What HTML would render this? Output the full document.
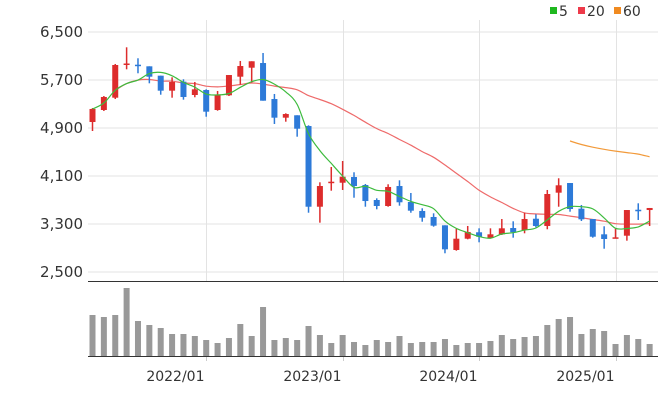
<!DOCTYPE html>
<html><head><meta charset="utf-8"><style>
html,body{margin:0;padding:0;background:#fff;width:658px;height:408px;overflow:hidden}
svg{display:block;font-family:"DejaVu Sans","Liberation Sans",sans-serif}
</style></head><body>
<svg id="c" width="658" height="408"></svg>
<script>
const opens=[5000,5200,5405,5950,5955,5928,5772,5522,5672,5450,5533,5200,5445,5755,5905,5983,5383,5072,5112,4933,3588,3988,3988,4083,3950,3700,3600,3933,3667,3517,3417,3278,2867,3055,3162,3067,3128,3233,3200,3388,3267,3822,3983,3555,3383,3128,3062,3105,3538,3533];
const closes=[5217,5417,5950,5975,5935,5755,5522,5667,5417,5545,5172,5455,5783,5933,6012,5355,5072,5133,4888,3588,3933,4005,4088,3933,3683,3600,3917,3662,3522,3405,3272,2878,3055,3167,3088,3128,3228,3162,3383,3267,3800,3945,3550,3378,3088,3050,3078,3533,3512,3567];
const highs=[5233,5433,5967,6245,6062,5928,5772,5745,5712,5667,5545,5517,5783,6017,6012,6150,5467,5145,5112,4945,3995,4250,4350,4162,3967,3728,3962,4028,3817,3562,3478,3278,3222,3267,3228,3228,3383,3345,3488,3462,3867,4062,3983,3617,3383,3262,3222,3533,3645,3567];
const lows=[4850,5183,5383,5878,5812,5645,5455,5405,5372,5412,5088,5188,5433,5622,5655,5355,4967,5005,4755,3488,3322,3855,3867,3738,3588,3545,3588,3605,3488,3338,3255,2812,2855,3045,2995,3055,3117,3072,3145,3245,3212,3588,3505,3350,3072,2888,3062,3022,3367,3267];
const volumes=[41,39,41,68,35,31,28,22,22,20,16,13,18,32,20,49,16,18,16,30,21,13,21,14,11,16,14,20,13,14,14,17,11,13,13,15,21,17,19,20,31,37,39,22,27,25,12,21,17,12];
const ma60=[null,null,null,null,null,null,null,null,null,null,null,null,null,null,null,null,null,null,null,null,null,null,null,null,null,null,null,null,null,null,null,null,null,null,null,null,null,null,null,null,null,null,4683,4625,4580,4545,4515,4490,4465,4420];
const yTicks=[2500,3300,4100,4900,5700,6500];
const xLabels=["2022/01","2023/01","2024/01","2025/01"];
const xLabelIdx=[10,22,34,46];

const svg=document.getElementById('c');const NS='http://www.w3.org/2000/svg';
function mk(t,a,p){const e=document.createElementNS(NS,t);for(const k in a)e.setAttribute(k,a[k]);(p||svg).appendChild(e);return e;}
const X0=92.5,DX=11.37;
const xs=i=>X0+i*DX;
const ys=v=>32+(6500-v)*0.06;
const vTop=281,vBot=356,vMax=75;
const yv=v=>vBot-v/vMax*(vBot-vTop);
function ma(n){return closes.map((c,i)=>{const s=closes.slice(Math.max(0,i-n+1),i+1);return s.reduce((a,b)=>a+b,0)/s.length;});}
const ma5=ma(5),ma20=ma(20);

yTicks.forEach(t=>{const l=mk('line',{x1:88,x2:658,y1:ys(t),y2:ys(t),stroke:'#e3e3e3','stroke-width':1});

const tx=mk('text',{x:83,y:ys(t)+5,'text-anchor':'end','font-size':15,fill:'#333'});tx.textContent=t.toLocaleString('en-US');
});
xLabelIdx.forEach((idx,k)=>{const gx=Math.round(xs(idx))+0.5;
const l=mk('line',{x1:gx,x2:gx,y1:20,y2:281,stroke:'#e3e3e3'});
const tk=mk('line',{x1:gx,x2:gx,y1:356,y2:361,stroke:'#ccc'});
const tx=mk('text',{x:gx-2,y:381,'text-anchor':'end','font-size':14,fill:'#333'});tx.textContent=xLabels[k];
});
const b1=mk('line',{x1:88,x2:658,y1:281.5,y2:281.5,stroke:'#333'});
const b2=mk('line',{x1:88,x2:658,y1:356.5,y2:356.5,stroke:'#333'});

volumes.forEach((v,i)=>{const r=mk('rect',{x:xs(i)-3,y:yv(v),width:6,height:vBot-yv(v),fill:'#999'});
});

function line(arr,color,name){
const pts=[];arr.forEach((v,i)=>{if(v!=null)pts.push([xs(i),ys(v)]);});
let d='M'+pts[0][0].toFixed(1)+','+pts[0][1].toFixed(1);
for(let i=0;i<pts.length-1;i++){const p0=pts[Math.max(0,i-1)],p1=pts[i],p2=pts[i+1],p3=pts[Math.min(pts.length-1,i+2)];
const c1x=p1[0]+(p2[0]-p0[0])/6,c1y=p1[1]+(p2[1]-p0[1])/6,c2x=p2[0]-(p3[0]-p1[0])/6,c2y=p2[1]-(p3[1]-p1[1])/6;
d+='C'+c1x.toFixed(1)+','+c1y.toFixed(1)+' '+c2x.toFixed(1)+','+c2y.toFixed(1)+' '+p2[0].toFixed(1)+','+p2[1].toFixed(1);}
const p=mk('path',{d:d,fill:'none',stroke:color,'stroke-width':1.2});}
line(ma20.map((v,i)=>i<2?null:v),'#ee6a6a','ma20-line');
line(ma60,'#f29a3a','ma60-line');

opens.forEach((o,i)=>{const c=closes[i],up=c>=o,col=up?'#dd2c2c':'#2d7ad8';
const w=mk('line',{x1:xs(i),x2:xs(i),y1:ys(highs[i]),y2:ys(lows[i]),stroke:col,'stroke-width':1.5});

const t=ys(Math.max(o,c)),h=Math.max(1.5,ys(Math.min(o,c))-t);
const r=mk('rect',{x:xs(i)-3,y:t,width:6,height:h,fill:col});
});
line(ma5,'#3dbb3d','ma5-line');

const leg=[['5','#1fb81f',550],['20','#ee3a4a',578],['60','#f08a20',614]];
leg.forEach(([t,c,x])=>{const r=mk('rect',{x:x,y:7,width:7,height:7,fill:c});
const tx=mk('text',{x:x+9,y:16,'font-size':14,fill:'#333'});tx.textContent=t;});
</script>
</body></html>
